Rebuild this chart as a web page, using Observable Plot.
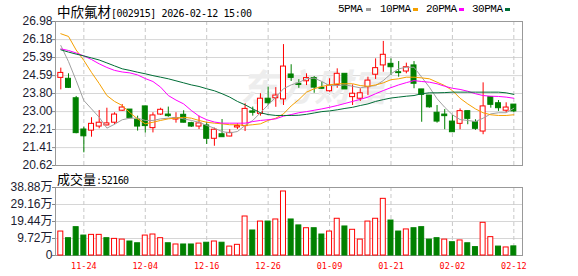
<!DOCTYPE html>
<html><head><meta charset="utf-8">
<script src="https://cdn.jsdelivr.net/npm/d3@7"></script>
<script src="https://cdn.jsdelivr.net/npm/@observablehq/plot@0.6"></script>
<style>
body{margin:0;background:#fff;}
#wrap{position:relative;width:578px;height:276px;overflow:hidden;background:#fff;}
#wrap svg{position:absolute;left:0;}
.t{position:absolute;white-space:nowrap;color:#000;z-index:3;line-height:16px;}
.sq{position:absolute;width:5px;height:3px;z-index:3;}
.lg{position:absolute;font:11px 'Liberation Mono',monospace;letter-spacing:-0.5px;z-index:3;color:#000;line-height:12px;}
</style></head><body>
<div id="wrap">
  <div class="t" style="left:57px;top:1px;"><span style="font:13.5px 'Noto Sans CJK SC'">中欣氟材</span><span style="font:10px 'DejaVu Sans Mono';letter-spacing:-0.4px">[002915] 2026-02-12 15:00</span></div>
  <div class="lg" style="left:338px;top:3px;">5PMA</div><div class="sq" style="left:366px;top:8px;background:#a0a0a0"></div>
  <div class="lg" style="left:380px;top:3px;">10PMA</div><div class="sq" style="left:413px;top:8px;background:#f5a000"></div>
  <div class="lg" style="left:426px;top:3px;">20PMA</div><div class="sq" style="left:459px;top:8px;background:#ff00ff"></div>
  <div class="lg" style="left:472px;top:3px;">30PMA</div><div class="sq" style="left:505px;top:8px;background:#006d36"></div>
  <div class="t" style="left:57px;top:169px;"><span style="font:13px 'Noto Sans CJK SC'">成交量</span><span style="font:10px 'DejaVu Sans Mono';letter-spacing:-0.6px">:52160</span></div>
</div>
<script>
const dates = ["2025-11-19","2025-11-20","2025-11-21","2025-11-24","2025-11-25","2025-11-26","2025-11-27","2025-11-28","2025-12-01","2025-12-02","2025-12-03","2025-12-04","2025-12-05","2025-12-08","2025-12-09","2025-12-10","2025-12-11","2025-12-12","2025-12-15","2025-12-16","2025-12-17","2025-12-18","2025-12-19","2025-12-22","2025-12-23","2025-12-24","2025-12-25","2025-12-26","2025-12-29","2025-12-30","2025-12-31","2026-01-05","2026-01-06","2026-01-07","2026-01-08","2026-01-09","2026-01-12","2026-01-13","2026-01-14","2026-01-15","2026-01-16","2026-01-19","2026-01-20","2026-01-21","2026-01-22","2026-01-23","2026-01-26","2026-01-27","2026-01-28","2026-01-29","2026-01-30","2026-02-02","2026-02-03","2026-02-04","2026-02-05","2026-02-06","2026-02-09","2026-02-10","2026-02-11","2026-02-12"];
const xTicks = ["2025-11-24","2025-12-04","2025-12-16","2025-12-26","2026-01-09","2026-01-21","2026-02-02","2026-02-12"];
const yTicks = [26.98,26.18,25.39,24.59,23.80,23.00,22.21,21.41,20.62];
const volTicks = [0,9.72,19.44,29.16,38.88];

const open = [24.49,24.45,23.59,22.21,22.16,22.34,22.39,22.51,23.04,23.09, 22.64,23.23,22.27,22.87,22.87,22.65,22.86,22.49,22.34,22.39, 21.80,22.00,21.90,22.30,22.36,23.01,22.90,23.57,23.59,23.54, 24.64,24.23,24.34,24.48,24.05,23.90,24.18,24.67,23.64,23.57, 24.08,24.63,25.04,25.11,24.74,24.77,25.04,23.98,23.71,22.95, 22.87,22.56,22.46,23.02,22.53,22.12,23.64,23.37,23.04,23.31];
const high = [24.92,24.67,23.67,22.31,22.73,23.05,23.15,22.95,23.31,23.09, 22.80,23.23,22.95,23.15,23.20,22.95,23.04,22.53,22.80,22.51, 22.27,22.65,22.20,22.46,23.35,23.20,23.79,24.08,24.06,25.96, 25.07,24.41,24.67,24.55,24.30,24.45,24.89,24.67,24.18,24.01, 24.52,25.33,26.10,25.33,25.21,25.14,25.21,23.98,23.71,23.27, 23.09,22.83,23.12,23.02,22.64,24.27,23.64,23.49,23.39,23.31];
const low = [23.96,24.02,22.02,21.18,21.87,22.24,22.37,22.42,23.01,22.68, 22.14,22.05,22.06,22.83,22.75,22.49,22.50,22.30,22.21,21.55, 21.47,21.86,21.89,22.21,22.12,22.80,22.80,23.27,23.19,23.27, 24.33,24.03,24.15,23.81,23.98,23.86,24.03,23.98,23.27,23.45, 23.71,24.42,24.74,24.59,24.52,24.67,24.01,22.53,23.15,22.49, 22.20,22.09,22.20,22.42,22.17,21.98,23.15,23.01,22.95,22.96];
const close = [24.71,24.05,22.05,21.91,22.46,22.51,22.48,22.87,23.18,22.71, 22.34,22.36,22.83,23.08,22.80,22.71,22.51,22.34,22.48,21.80, 22.20,21.87,22.06,22.36,23.12,22.95,23.57,23.37,23.71,24.99, 24.49,24.18,24.48,24.06,24.01,24.15,24.67,23.98,23.79,23.81, 24.37,24.92,25.51,24.96,24.70,24.96,24.23,23.74,23.19,22.56, 22.80,22.09,23.02,22.68,22.24,23.23,23.30,23.15,23.18,23.01];
// volume in 万 (10k)
const volume = [13.7,9.9,16.2,11.4,11.8,11.8,9.9,9.5,9.1,8.0, 7.0,11.4,12.0,9.9,7.0,6.3,6.3,6.3,6.8,7.3, 8.0,7.3,5.1,6.1,22.3,14.3,19.4,19.4,20.6,36.6, 20.6,17.2,15.6,15.6,12.0,13.7,21.0,16.6,14.7,9.1, 19.4,21.0,32.4,20.0,13.7,14.9,15.6,16.2,9.1,9.9, 9.1,7.6,8.6,7.0,4.8,18.7,10.5,5.1,4.6,5.216];
const volUp = [1,0,0,0,1,1,0,1,1,0, 0,1,1,1,0,1,0,0,1,0, 1,0,1,1,1,0,1,0,1,1, 0,0,1,0,0,1,1,0,1,1, 1,1,1,0,0,1,0,0,0,0, 1,0,1,0,0,1,1,0,1,0];
const ma5 = [25.92,25.21,24.37,23.49,23.12,22.75,22.27,22.44,22.64,22.71, 22.71,22.61,22.61,22.68,22.71,22.75,22.68,22.61,22.53,22.39, 22.27,22.12,22.06,22.12,22.39,22.61,22.95,23.30,23.64,24.01, 24.18,24.29,24.45,24.48,24.33,24.15,24.15,24.18,24.12,24.05, 24.11,24.15,24.37,24.67,24.89,24.96,24.96,24.52,24.08,23.57, 23.19,22.86,22.65,22.61,22.56,22.71,22.90,22.95,22.95,23.15];
const ma10 = [26.44,26.32,25.72,25.26,24.73,24.24,23.71,23.45,23.27,22.95, 22.68,22.46,22.53,22.61,22.68,22.71,22.75,22.71,22.61,22.53, 22.49,22.46,22.42,22.42,22.39,22.42,22.46,22.61,22.71,22.90, 23.25,23.53,23.86,24.01,24.11,24.18,24.23,24.23,24.23,24.15, 24.12,24.18,24.27,24.41,24.45,24.52,24.52,24.49,24.45,24.30, 24.15,23.93,23.59,23.34,23.12,22.95,22.86,22.83,22.83,22.86];
const ma20 = [25.77,25.70,25.59,25.46,25.30,25.11,24.95,24.82,24.75,24.71, 24.62,24.46,24.33,24.08,23.71,23.51,23.34,23.05,22.80,22.64, 22.54,22.49,22.49,22.49,22.49,22.56,22.61,22.64,22.68,22.80, 22.87,22.95,23.00,23.06,23.12,23.19,23.27,23.36,23.45,23.54, 23.64,23.79,23.93,24.06,24.18,24.28,24.37,24.33,24.30,24.23, 24.12,24.03,23.98,23.90,23.79,23.71,23.68,23.67,23.64,23.59];
const ma30 = [25.73,25.63,25.54,25.46,25.37,25.28,25.15,25.02,24.89,24.82, 24.74,24.67,24.59,24.52,24.45,24.36,24.27,24.18,24.11,24.01, 23.92,23.79,23.64,23.45,23.30,23.12,22.95,22.87,22.83,22.83, 22.83,22.84,22.88,22.94,23.00,23.03,23.08,23.14,23.19,23.27, 23.34,23.45,23.53,23.60,23.64,23.68,23.71,23.79,23.83,23.83, 23.84,23.86,23.86,23.86,23.86,23.86,23.86,23.86,23.83,23.76];

const RED = "#ff0000", GREEN = "#008000";
const candles = dates.map((d, i) => ({date: d, open: open[i], high: high[i], low: low[i], close: close[i], vol: volume[i], volUp: volUp[i]}));
const up = d => d.close >= d.open;
const cColor = d => up(d) ? RED : GREEN;
const maSeries = [[ma5, "#a0a0a0"], [ma10, "#f5a000"], [ma20, "#ff00ff"], [ma30, "#006d36"]];

const xScale = {type: "band", domain: dates, paddingInner: 0.22, paddingOuter: 0.52, align: 0.29, round: false, axis: null, label: null};
const style = {background: "transparent", fontFamily: "'Liberation Sans','Noto Sans CJK SC',sans-serif", fontSize: "12px", overflow: "visible"};
const dash = {stroke: "#c8c8c8", strokeDasharray: "4,3"};

const main = Plot.plot({
  width: 578, height: 175, marginTop: 21, marginBottom: 10, marginLeft: 55, marginRight: 56,
  style,
  x: xScale,
  y: {domain: [20.62, 26.98], axis: null, label: null},
  marks: [
    Plot.ruleY(yTicks, {stroke: "#d6d6d6"}),
    Plot.ruleX(xTicks, dash),
    Plot.text(["东方财富"], {x: () => dates[33], y: () => 24.0, fill: "#ededed", fontSize: 37, fontWeight: "bold", fontStyle: "italic", fontFamily: "Noto Sans CJK SC"}),
    Plot.frame({stroke: "#999"}),
    Plot.ruleX(candles, {x: "date", y1: "low", y2: "high", stroke: cColor}),
    Plot.barY(candles, {x: "date", y1: "open", y2: "close", fill: d => up(d) ? "#ffffff" : GREEN, stroke: cColor, insetLeft: 0.5, insetRight: 0.5}),
    ...maSeries.map(([arr, c]) => Plot.line(dates, {x: d => d, y: (d, i) => arr[i], stroke: c, strokeWidth: 1})),
    Plot.axisY(yTicks, {anchor: "left", label: null, tickSize: 3, tickPadding: 0, tickFormat: d => d.toFixed(2), stroke: "#888", fill: "#1b1b30", fontSize: 12})
  ]
});
main.style.top = "0px";

const vol = Plot.plot({
  width: 578, height: 106, marginTop: 17, marginBottom: 21, marginLeft: 55, marginRight: 56,
  style,
  x: xScale,
  y: {domain: [0, 38.88], axis: null, label: null},
  marks: [
    Plot.ruleY(volTicks.slice(1, 4), {stroke: "#d6d6d6"}),
    Plot.ruleX(xTicks, dash),
    Plot.frame({stroke: "#999"}),
    Plot.barY(candles, {x: "date", y: "vol", fill: d => d.volUp ? "#ffffff" : GREEN, stroke: d => d.volUp ? RED : GREEN, insetLeft: 0.5, insetRight: 0.5}),
    Plot.axisY(volTicks, {anchor: "left", label: null, tickSize: 3, tickPadding: 0, tickFormat: d => d === 0 ? "0" : d.toFixed(2) + "万", stroke: "#888", fill: "#1b1b30", fontSize: 12}),
    Plot.axisX(xTicks, {anchor: "bottom", label: null, tickSize: 0, tickPadding: 7, tickFormat: d => d.slice(5), fill: RED, fontFamily: "DejaVu Sans Mono", fontSize: 8.5})
  ]
});
vol.style.top = "170px";

const wrap = document.getElementById("wrap");
wrap.appendChild(main);
wrap.appendChild(vol);
</script>
</body></html>
